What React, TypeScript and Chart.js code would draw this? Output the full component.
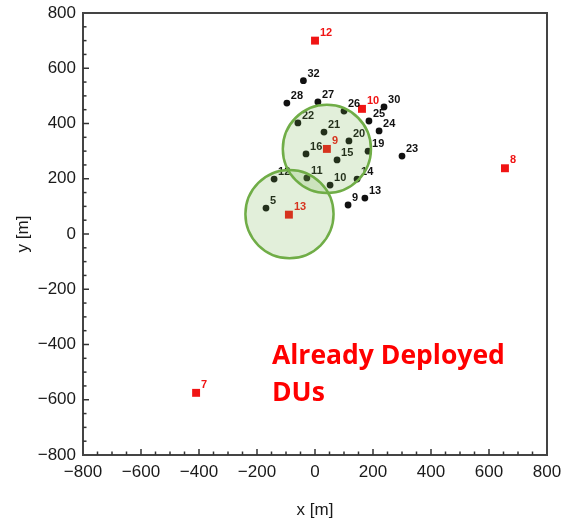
import { useEffect, useRef } from "react";
import { Chart, registerables } from "chart.js";

Chart.register(...registerables);

// ---- data ----
const redIds = ["12", "10", "9", "13", "8", "7"];
const redX = [0, 162, 41, -90, 655, -410];
const redY = [700, 453, 308, 70, 238, -575];

const blackIds = ["32", "28", "27", "26", "30", "25", "24", "22", "21", "20", "19", "16", "15", "23", "14", "10", "11", "12", "13", "9", "5"];
const blackX = [-40, -97, 10, 100, 238, 186, 221, -59, 31, 117, 183, -31, 76, 300, 145, 52, -28, -141, 172, 114, -169];
const blackY = [555, 474, 478, 445, 460, 409, 373, 402, 369, 337, 300, 290, 268, 282, 199, 177, 203, 199, 130, 105, 94];

// coverage circles (centre in m, radius in m)
const circleX = [41, -88];
const circleY = [308, 72];
const circleR = [152, 152];

const axisMin = -800;
const axisMax = 800;
const majorStep = 200;
const minorStep = 50;

const annotationLines = ["Already Deployed", "DUs"];
const xTitle = "x [m]";
const yTitle = "y [m]";

const fmt = (v: number) => String(v).replace("-", "\u2212");

export default function App() {
  const ref = useRef<HTMLCanvasElement>(null);

  useEffect(() => {
    const canvas = ref.current;
    if (!canvas) return;

    const overlay = {
      id: "overlay",
      afterDatasetsDraw(chart: any) {
        const ctx = chart.ctx as CanvasRenderingContext2D;
        const xs = chart.scales.x;
        const ys = chart.scales.y;
        const area = chart.chartArea;
        ctx.save();

        // point labels
        ctx.font = 'bold 11px "Liberation Sans"';
        ctx.textAlign = "left";
        ctx.textBaseline = "middle";
        ctx.fillStyle = "#111";
        blackIds.forEach((id, i) => {
          ctx.fillText(id, xs.getPixelForValue(blackX[i]) + 4, ys.getPixelForValue(blackY[i]) - 7);
        });
        ctx.fillStyle = "rgb(240,20,20)";
        redIds.forEach((id, i) => {
          ctx.fillText(id, xs.getPixelForValue(redX[i]) + 5, ys.getPixelForValue(redY[i]) - 8);
        });

        // circles
        circleX.forEach((cx, i) => {
          const px = xs.getPixelForValue(cx);
          const py = ys.getPixelForValue(circleY[i]);
          const r = Math.abs(xs.getPixelForValue(cx + circleR[i]) - px);
          ctx.beginPath();
          ctx.arc(px, py, r, 0, Math.PI * 2);
          ctx.fillStyle = "rgba(112,173,71,0.2)";
          ctx.fill();
          ctx.lineWidth = 2.5;
          ctx.strokeStyle = "rgb(112,173,71)";
          ctx.stroke();
        });

        // annotation
        ctx.fillStyle = "#ff0000";
        ctx.font = 'bold 26.5px "Open Sans"';
        ctx.textBaseline = "alphabetic";
        ctx.textAlign = "left";
        ctx.fillText(annotationLines[0], 272, 364);
        ctx.fillText(annotationLines[1], 272, 401);

        // frame
        ctx.strokeStyle = "#444";
        ctx.lineWidth = 2;
        ctx.strokeRect(area.left, area.top, area.right - area.left, area.bottom - area.top);

        // inward ticks
        ctx.strokeStyle = "#333";
        ctx.lineWidth = 1.5;
        for (let v = axisMin + minorStep; v < axisMax; v += minorStep) {
          const len = v % majorStep === 0 ? 6 : 3.5;
          const px = xs.getPixelForValue(v);
          ctx.beginPath();
          ctx.moveTo(px, area.bottom);
          ctx.lineTo(px, area.bottom - len);
          ctx.stroke();
          const py = ys.getPixelForValue(v);
          ctx.beginPath();
          ctx.moveTo(area.left, py);
          ctx.lineTo(area.left + len, py);
          ctx.stroke();
        }

        // axis titles
        ctx.fillStyle = "#1a1a1a";
        ctx.font = '17px "Liberation Sans"';
        ctx.textAlign = "center";
        ctx.textBaseline = "middle";
        ctx.fillText(xTitle, (area.left + area.right) / 2, 510);
        ctx.save();
        ctx.translate(23, (area.top + area.bottom) / 2);
        ctx.rotate(-Math.PI / 2);
        ctx.fillText(yTitle, 0, 0);
        ctx.restore();

        ctx.restore();
      },
    };

    const chart = new Chart(canvas, {
      type: "scatter",
      data: {
        datasets: [
          {
            label: "DUs",
            data: blackX.map((x, i) => ({ x, y: blackY[i] })),
            pointStyle: "circle",
            pointRadius: 3.4,
            backgroundColor: "#111",
            borderColor: "#111",
            borderWidth: 0,
          },
          {
            label: "Deployed",
            data: redX.map((x, i) => ({ x, y: redY[i] })),
            pointStyle: "rect",
            pointRadius: 5.6,
            backgroundColor: "rgb(240,20,20)",
            borderColor: "rgb(240,20,20)",
            borderWidth: 0,
          },
        ],
      },
      options: {
        animation: false,
        responsive: false,
        devicePixelRatio: 1,
        layout: { padding: { top: 13, right: 15, left: 0, bottom: 0 } },
        plugins: { legend: { display: false }, tooltip: { enabled: false } },
        scales: {
          x: {
            type: "linear",
            min: axisMin,
            max: axisMax,
            grid: { display: true, drawOnChartArea: false, drawTicks: false, color: "rgba(0,0,0,0)" },
            border: { display: false },
            ticks: {
              stepSize: majorStep,
              padding: 7,
              maxRotation: 0,
              autoSkip: false,
              color: "#1a1a1a",
              font: { family: "Liberation Sans", size: 17 },
              callback: (v: any) => fmt(Number(v)),
            },
            afterFit: (s: any) => {
              s.height = 69;
              s.paddingLeft = 0;
              s.paddingRight = 0;
            },
          },
          y: {
            type: "linear",
            min: axisMin,
            max: axisMax,
            grid: { display: true, drawOnChartArea: false, drawTicks: false, color: "rgba(0,0,0,0)" },
            border: { display: false },
            ticks: {
              stepSize: majorStep,
              padding: 7,
              autoSkip: false,
              color: "#1a1a1a",
              font: { family: "Liberation Sans", size: 17 },
              callback: (v: any) => fmt(Number(v)),
            },
            afterFit: (s: any) => {
              s.width = 83;
              s.paddingTop = 0;
              s.paddingBottom = 0;
            },
          },
        },
      },
      plugins: [overlay],
    });

    return () => chart.destroy();
  }, []);

  return (
    <div style={{ position: "absolute", left: 0, top: 0, width: 562, height: 524, background: "#fff" }}>
      <canvas ref={ref} width={562} height={524} style={{ display: "block", width: 562, height: 524 }} />
    </div>
  );
}
